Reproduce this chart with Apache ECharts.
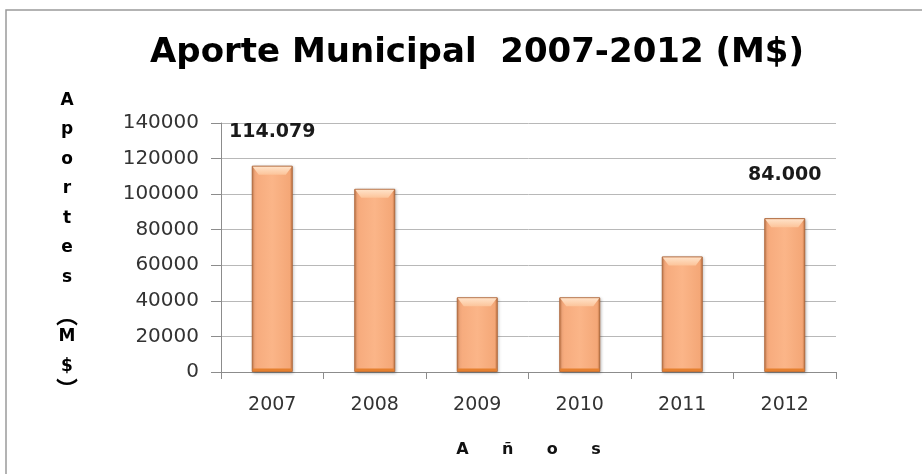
<!DOCTYPE html>
<html>
<head>
<meta charset="utf-8">
<script src="https://cdn.jsdelivr.net/npm/echarts@6/dist/echarts.min.js"></script>
<style>
  html, body { margin: 0; padding: 0; background: #fff; }
  #chart { width: 922px; height: 474px; }
</style>
</head>
<body>
<div id="chart"></div>
<script>
// datos
const years = ['2007', '2008', '2009', '2010', '2011', '2012'];
const aportes = [116000, 103000, 42000, 42000, 65000, 86500];
const rotulos = ['114.079', '', '', '', '', '84.000'];
const rotuloDist = [24, 0, 0, 0, 0, 34];
const yTicks = { min: 0, max: 140000, interval: 20000 };
// título del eje Y en vertical; los paréntesis en su forma vertical
const yTitleLetters = ['A', 'p', 'o', 'r', 't', 'e', 's', '', '︵', 'M', '$', '︶'];

const BAR_W = 41;

const chart = echarts.init(document.getElementById('chart'), null, { renderer: 'canvas' });

const yTitleText = yTitleLetters.map(c => {
  if (c === '') return '{gap|}';
  if (c === '︵') return '{pa|' + c + '}';
  if (c === '︶') return '{pc|' + c + '}';
  return '{l|' + c + '}';
}).join('\n');

const option = {
  animation: false,
  backgroundColor: '#fff',
  title: {
    text: 'Aporte Municipal  2007-2012 (M$)',
    left: 472,
    top: 31,
    textAlign: 'center',
    textStyle: { fontFamily: 'DejaVu Sans', fontWeight: 'bold', fontSize: 34, color: '#000' }
  },
  grid: { left: 221, right: 86, top: 123, bottom: 102 },
  graphic: [
    {
      type: 'rect', silent: true, z: -1,
      shape: { x: 6, y: 10, width: 940, height: 490 },
      style: { fill: 'none', stroke: '#9a9a9a', lineWidth: 1.5 }
    },
    {
      type: 'text', left: 56, top: 92, silent: true,
      style: {
        text: yTitleText,
        align: 'center',
        rich: {
          l: { fontFamily: 'DejaVu Sans', fontWeight: 'bold', fontSize: 17, lineHeight: 29.5, color: '#111', align: 'center', width: 22 },
          gap: { fontSize: 10, lineHeight: 14, width: 22 },
          pa: { fontFamily: 'Noto Sans CJK SC', fontWeight: 'bold', fontSize: 22, lineHeight: 16, color: '#111', align: 'center', width: 22 },
          pc: { fontFamily: 'Noto Sans CJK SC', fontWeight: 'bold', fontSize: 22, lineHeight: 14, color: '#111', align: 'center', width: 22 }
        }
      }
    }
  ],
  xAxis: {
    type: 'category',
    data: years,
    name: 'A      ñ      o      s',
    nameLocation: 'middle',
    nameGap: 70,
    nameTextStyle: { fontFamily: 'DejaVu Sans', fontWeight: 'bold', fontSize: 16, color: '#111' },
    axisLine: { lineStyle: { color: '#8c8c8c', width: 1 } },
    axisTick: { show: true, length: 7, lineStyle: { color: '#8c8c8c' } },
    axisLabel: { margin: 24, fontFamily: 'DejaVu Sans', fontSize: 19, color: '#333' }
  },
  yAxis: {
    type: 'value',
    min: yTicks.min,
    max: yTicks.max,
    interval: yTicks.interval,
    axisLine: { show: true, lineStyle: { color: '#8c8c8c', width: 1 } },
    axisTick: { show: true, length: 10, lineStyle: { color: '#8c8c8c' } },
    axisLabel: { margin: 22, fontFamily: 'DejaVu Sans', fontSize: 20, color: '#333', formatter: v => String(v) },
    splitLine: { lineStyle: { color: '#b8b8b8', width: 1 } }
  },
  series: [
    {
      type: 'bar',
      barWidth: BAR_W,
      data: aportes.map((v, i) => ({
        value: v,
        label: {
          show: rotulos[i] !== '',
          position: 'top',
          distance: rotuloDist[i],
          formatter: () => rotulos[i],
          fontFamily: 'DejaVu Sans',
          fontWeight: 'bold',
          fontSize: 19,
          color: '#1a1a1a'
        }
      })),
      itemStyle: {
        color: new echarts.graphic.LinearGradient(0, 0, 1, 0, [
          { offset: 0, color: '#cf7e4d' },
          { offset: 0.07, color: '#f6aa7c' },
          { offset: 0.5, color: '#fbb588' },
          { offset: 0.93, color: '#f4a777' },
          { offset: 1, color: '#c4743f' }
        ]),
        borderColor: '#b06a3e',
        borderWidth: 1,
        shadowColor: 'rgba(0,0,0,0.25)',
        shadowBlur: 3,
        shadowOffsetX: 1,
        shadowOffsetY: 1
      }
    },
    {
      // bisel superior y franja inferior de cada barra
      type: 'custom',
      silent: true,
      z: 3,
      data: aportes.map((v, i) => [i, v]),
      encode: { x: 0, y: 1 },
      renderItem: function (params, api) {
        const top = api.coord([api.value(0), api.value(1)]);
        const base = api.coord([api.value(0), 0]);
        const x0 = top[0] - BAR_W / 2 + 1;
        const x1 = top[0] + BAR_W / 2 - 1;
        const y = top[1] + 1;
        return {
          type: 'group',
          children: [
            {
              type: 'polygon',
              shape: { points: [[x0, y], [x1, y], [x1 - 6, y + 8], [x0 + 6, y + 8]] },
              style: {
                fill: new echarts.graphic.LinearGradient(0, 0, 0, 1, [
                  { offset: 0, color: '#ffe2c8' },
                  { offset: 1, color: '#fcc49a' }
                ])
              }
            },
            {
              type: 'rect',
              shape: { x: x0, y: base[1] - 3.5, width: x1 - x0, height: 3 },
              style: { fill: '#e5802f' }
            }
          ]
        };
      }
    }
  ]
};

chart.setOption(option);
</script>
</body>
</html>
